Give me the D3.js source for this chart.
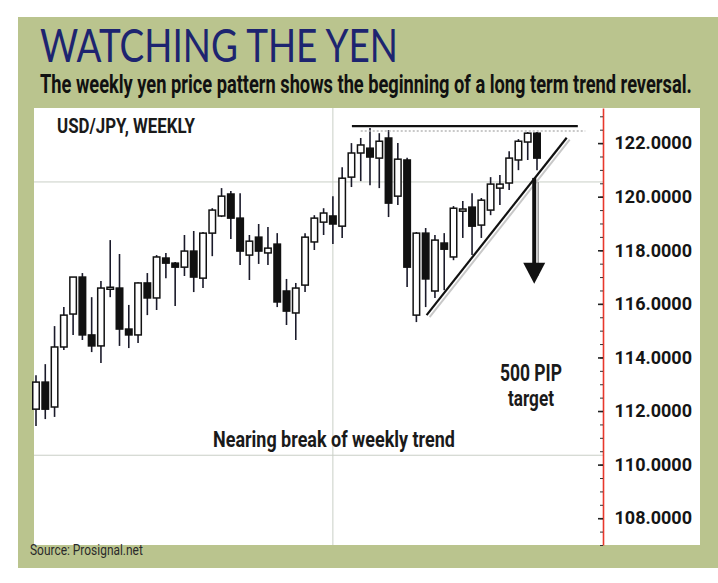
<!DOCTYPE html>
<html>
<head>
<meta charset="utf-8">
<script src="https://cdn.jsdelivr.net/npm/d3@7"></script>
<style>
  body { margin: 0; background: #ffffff; }
  svg { display: block; }
</style>
</head>
<body>
<div id="wrapper"></div>
<script>
// weekly USD/JPY candles
const candleOpen = [
  112.07, 113.08, 112.15, 114.39, 115.62, 117.00, 114.84, 114.43, 116.59, 116.59, 115.06, 114.84,
  116.78, 116.22, 117.71, 117.52, 117.37, 117.97, 116.96, 118.64, 119.28, 120.10, 119.20, 117.82,
  118.49, 117.90, 118.23, 116.48, 115.66, 116.70, 118.31, 119.05, 119.28, 118.90, 120.73, 121.63,
  121.81, 121.44, 122.19, 120.02, 121.37, 115.58, 118.64, 116.48, 118.27, 117.75, 119.46, 119.61,
  118.94, 119.50, 120.32, 120.51, 121.37, 122.04, 122.37
]
const candleHigh = [
  113.34, 113.75, 115.17, 115.88, 117.00, 117.15, 116.25, 116.85, 118.38, 117.86, 115.96, 116.81,
  117.15, 117.82, 117.90, 117.56, 118.57, 118.72, 118.68, 119.57, 120.32, 120.21, 120.13, 118.57,
  118.98, 118.87, 118.64, 116.93, 116.78, 118.64, 119.31, 119.57, 120.02, 121.10, 122.00, 122.19,
  122.56, 122.37, 122.49, 122.00, 121.45, 118.68, 118.83, 118.57, 118.64, 119.65, 119.84, 120.13,
  119.95, 120.73, 120.81, 121.70, 122.15, 122.41, 122.41
]
const candleLow = [
  111.44, 111.70, 111.78, 114.28, 114.84, 114.65, 114.20, 113.79, 116.25, 114.43, 114.35, 114.54,
  115.58, 115.77, 116.96, 115.92, 117.04, 116.44, 116.59, 117.78, 119.24, 118.42, 117.45, 116.89,
  117.49, 117.45, 115.88, 115.21, 114.65, 116.44, 118.01, 118.57, 118.23, 118.46, 120.36, 120.58,
  120.43, 120.32, 119.24, 119.69, 116.63, 115.32, 115.88, 116.22, 116.51, 117.63, 118.46, 117.82,
  118.46, 119.31, 119.69, 120.25, 120.99, 121.37, 120.99
]
const candleClose = [
  113.08, 112.07, 114.39, 115.58, 117.00, 114.84, 114.43, 116.59, 116.62, 115.06, 114.84, 116.78,
  116.22, 117.75, 117.52, 117.37, 117.97, 117.00, 118.64, 119.50, 120.02, 119.20, 117.97, 118.34,
  117.97, 118.08, 116.07, 115.73, 116.59, 118.49, 119.20, 119.39, 118.98, 120.69, 121.63, 121.93,
  121.48, 122.07, 119.76, 121.40, 117.37, 118.64, 116.93, 118.38, 118.04, 119.57, 119.54, 118.90,
  119.87, 120.47, 120.47, 121.44, 122.07, 122.37, 121.44
]

// axis labels and the drawn annotations (week index, price)
const priceTicks = [108, 110, 112, 114, 116, 118, 120, 122]
const gridPrices = [120.55, 110.35]
const gridWeeks = [32]
const resistance = [[34.05, 122.63], [58.4, 122.63]]
const resistanceDots = [[35.0, 122.45], [59.2, 122.45]]
const trendLine = [[42.1, 115.58], [57.2, 122.2]]
const targetArrow = [[53.7, 120.7], [53.7, 116.75]]

const data = candleOpen.map((o, i) => ({
  i, open: o, high: candleHigh[i], low: candleLow[i], close: candleClose[i]
}))

const dimensions = {
  width: 718,
  height: 583,
  plot: { left: 34, right: 603, top: 108, bottom: 545 }
}

const wrapper = d3.select("#wrapper")
  .append("svg")
    .attr("width", dimensions.width)
    .attr("height", dimensions.height)

// magazine box
wrapper.append("rect")
  .attr("x", 18).attr("y", 17)
  .attr("width", 700).attr("height", 551)
  .attr("fill", "#bac48e")
wrapper.append("rect")
  .attr("x", dimensions.plot.left).attr("y", dimensions.plot.top)
  .attr("width", 700 - dimensions.plot.left)
  .attr("height", dimensions.plot.bottom - dimensions.plot.top)
  .attr("fill", "#ffffff")

const condensed = "'Liberation Sans Narrow', 'Roboto', 'Liberation Sans', sans-serif"

// squeeze a text horizontally to a given width (condensed magazine type)
function fitText(sel, x, y, width) {
  sel.attr("x", 0).attr("y", 0)
  const natural = sel.node().getComputedTextLength()
  sel.attr("transform", `translate(${x},${y}) scale(${width / natural},1)`)
  return sel
}

fitText(wrapper.append("text")
  .style("font-family", "Lato, 'Noto Sans', sans-serif")
  .style("font-size", "46px")
  .attr("fill", "#1d2470")
  .text("WATCHING THE YEN"), 40, 62, 358)

fitText(wrapper.append("text")
  .style("font-family", condensed)
  .style("font-weight", "bold")
  .style("font-size", "26px")
  .attr("fill", "#111")
  .text("The weekly yen price pattern shows the beginning of a long term trend reversal."), 40, 93, 652)

// scales
const xScale = d3.scaleLinear()
  .domain([0, 54])
  .range([36, 537])

const yScale = d3.scaleLinear()
  .domain([107.0, 123.31])
  .range([dimensions.plot.bottom, dimensions.plot.top])

// grid
wrapper.append("g").selectAll("line")
  .data(gridPrices)
  .join("line")
    .attr("x1", dimensions.plot.left)
    .attr("x2", dimensions.plot.right)
    .attr("y1", d => yScale(d))
    .attr("y2", d => yScale(d))
    .attr("stroke", "#c9cfc6")
    .attr("stroke-width", 1)
wrapper.append("g").selectAll("line")
  .data(gridWeeks)
  .join("line")
    .attr("x1", d => xScale(d))
    .attr("x2", d => xScale(d))
    .attr("y1", dimensions.plot.top)
    .attr("y2", dimensions.plot.bottom)
    .attr("stroke", "#c9cfc6")
    .attr("stroke-width", 1)

// candles
const bodyWidth = 6.5
const candles = wrapper.append("g")
  .selectAll("g")
  .data(data)
  .join("g")

candles.append("line")
  .attr("x1", d => xScale(d.i))
  .attr("x2", d => xScale(d.i))
  .attr("y1", d => yScale(d.high))
  .attr("y2", d => yScale(d.low))
  .attr("stroke", "#1a1a2a")
  .attr("stroke-width", 1.6)

candles.append("rect")
  .attr("x", d => xScale(d.i) - bodyWidth / 2)
  .attr("y", d => yScale(Math.max(d.open, d.close)))
  .attr("width", bodyWidth)
  .attr("height", d => Math.max(2, Math.abs(yScale(d.open) - yScale(d.close))))
  .attr("fill", d => d.close >= d.open ? "#ffffff" : "#111111")
  .attr("stroke", "#111111")
  .attr("stroke-width", 1.5)

// annotations
const line = d3.line()
  .x(d => xScale(d[0]))
  .y(d => yScale(d[1]))

wrapper.append("path")
  .attr("d", line(resistanceDots))
  .attr("stroke", "#b8b8b8")
  .attr("stroke-width", 1.5)
  .attr("stroke-dasharray", "2,2")
wrapper.append("path")
  .attr("d", line(resistance))
  .attr("stroke", "#111")
  .attr("stroke-width", 2.2)

wrapper.append("path")
  .attr("d", line(trendLine))
  .attr("transform", "translate(3,2)")
  .attr("stroke", "#c8c8c8")
  .attr("stroke-width", 2)
wrapper.append("path")
  .attr("d", line(trendLine))
  .attr("stroke", "#111")
  .attr("stroke-width", 2.2)

// target arrow
const arrowX = xScale(targetArrow[0][0])
const arrowTop = yScale(targetArrow[0][1])
const arrowTip = yScale(targetArrow[1][1])
wrapper.append("line")
  .attr("x1", arrowX + 4).attr("x2", arrowX + 4)
  .attr("y1", arrowTop + 4).attr("y2", arrowTip - 8)
  .attr("stroke", "#9a9a9a")
  .attr("stroke-width", 1.5)
wrapper.append("line")
  .attr("x1", arrowX).attr("x2", arrowX)
  .attr("y1", arrowTop).attr("y2", arrowTip - 18)
  .attr("stroke", "#111")
  .attr("stroke-width", 4)
wrapper.append("path")
  .attr("d", `M${arrowX - 11},${arrowTip - 21} L${arrowX + 11},${arrowTip - 21} L${arrowX},${arrowTip} Z`)
  .attr("fill", "#111")

// y axis on the right
const minorAxis = d3.axisRight(yScale)
  .tickValues(d3.range(107, 123.3, 0.5))
  .tickSize(-3)
  .tickSizeOuter(0)
  .tickFormat("")
const minor = wrapper.append("g")
  .attr("transform", `translate(${dimensions.plot.right},0)`)
  .call(minorAxis)
minor.select(".domain").attr("stroke", "#e8382c").attr("stroke-width", 1.6)
minor.selectAll(".tick line").attr("stroke", "#333")

const yAxis = wrapper.append("g")
  .attr("transform", `translate(${dimensions.plot.right},0)`)
  .call(d3.axisRight(yScale)
    .tickValues(priceTicks)
    .tickSize(-5)
    .tickSizeOuter(0)
    .tickFormat(d3.format(".4f")))
yAxis.select(".domain").remove()
yAxis.selectAll(".tick line").attr("stroke", "#222").attr("stroke-width", 1.6)
yAxis.selectAll(".tick text")
  .attr("x", 89)
  .attr("text-anchor", "end")
  .attr("fill", "#151515")
  .style("font-family", condensed)
  .style("font-weight", "bold")
  .style("font-size", "18px")

// chart texts
const label = (txt, x, y, size, width) => fitText(wrapper.append("text")
  .style("font-family", condensed)
  .style("font-weight", "bold")
  .style("font-size", size + "px")
  .attr("fill", "#1a1a1a")
  .text(txt), x, y, width)

label("USD/JPY, WEEKLY", 57, 133, 20, 138)
label("Nearing break of weekly trend", 213, 447, 22, 242)
label("500 PIP", 500, 381, 24, 62)
label("target", 508, 406, 22, 46)

fitText(wrapper.append("text")
  .style("font-family", condensed)
  .style("font-size", "14px")
  .attr("fill", "#2a2a2a")
  .text("Source: Prosignal.net"), 30, 555, 113)
</script>
</body>
</html>
